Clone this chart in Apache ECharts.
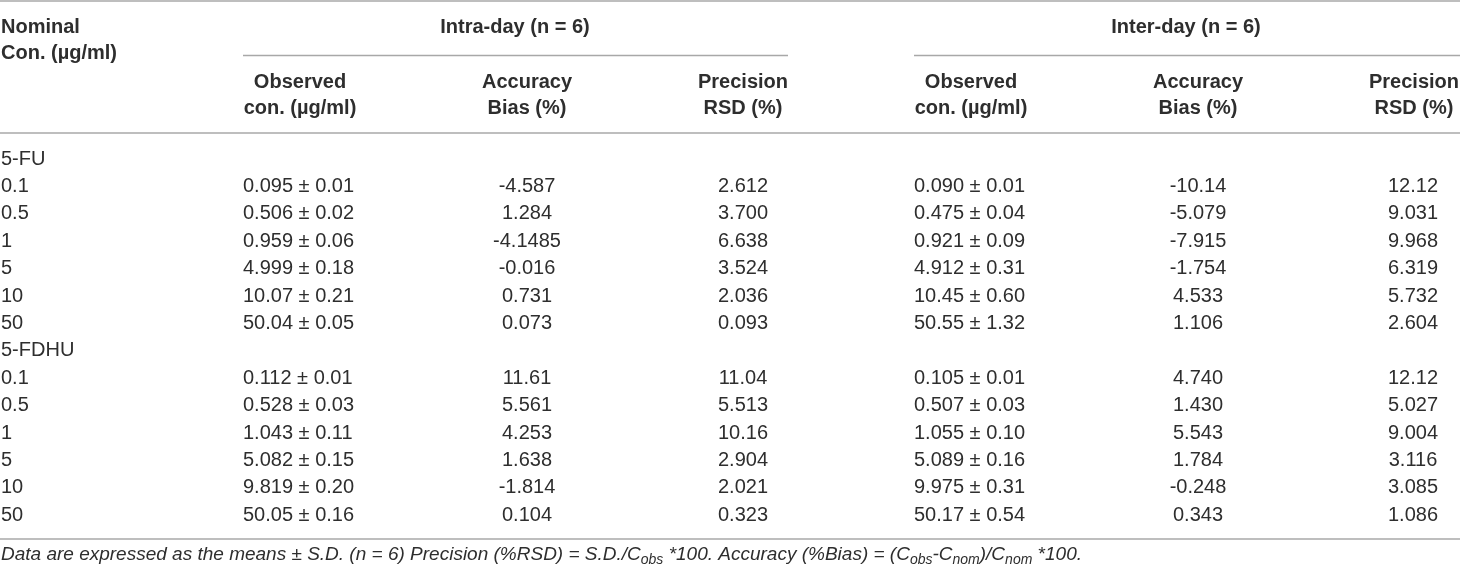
<!DOCTYPE html>
<html lang="en">
<head>
    <meta charset="utf-8"/>
    <title>Intra-day and inter-day precision</title>
    <script src="https://cdn.jsdelivr.net/npm/echarts@6/dist/echarts.min.js"></script>
</head>
<style>
    html, body { margin: 0; padding: 0; background: #fff; }
    #table { width: 1460px; height: 570px; }
</style>
<body>
<div id="table"></div>
<script type="text/javascript">
    // table values, kept as text so trailing zeros stay as printed
    var compounds = ['5-FU', '5-FDHU'];
    var nominalCon = ['0.1', '0.5', '1', '5', '10', '50'];

    var fuIntraObserved = ['0.095 ± 0.01', '0.506 ± 0.02', '0.959 ± 0.06', '4.999 ± 0.18', '10.07 ± 0.21', '50.04 ± 0.05'];
    var fuIntraBias = ['-4.587', '1.284', '-4.1485', '-0.016', '0.731', '0.073'];
    var fuIntraRSD = ['2.612', '3.700', '6.638', '3.524', '2.036', '0.093'];
    var fuInterObserved = ['0.090 ± 0.01', '0.475 ± 0.04', '0.921 ± 0.09', '4.912 ± 0.31', '10.45 ± 0.60', '50.55 ± 1.32'];
    var fuInterBias = ['-10.14', '-5.079', '-7.915', '-1.754', '4.533', '1.106'];
    var fuInterRSD = ['12.12', '9.031', '9.968', '6.319', '5.732', '2.604'];

    var fdhuIntraObserved = ['0.112 ± 0.01', '0.528 ± 0.03', '1.043 ± 0.11', '5.082 ± 0.15', '9.819 ± 0.20', '50.05 ± 0.16'];
    var fdhuIntraBias = ['11.61', '5.561', '4.253', '1.638', '-1.814', '0.104'];
    var fdhuIntraRSD = ['11.04', '5.513', '10.16', '2.904', '2.021', '0.323'];
    var fdhuInterObserved = ['0.105 ± 0.01', '0.507 ± 0.03', '1.055 ± 0.10', '5.089 ± 0.16', '9.975 ± 0.31', '50.17 ± 0.54'];
    var fdhuInterBias = ['4.740', '1.430', '5.543', '1.784', '-0.248', '0.343'];
    var fdhuInterRSD = ['12.12', '5.027', '9.004', '3.116', '3.085', '1.086'];

    var groupHeaders = ['Intra-day (n = 6)', 'Inter-day (n = 6)'];
    var colHeaders = [
        ['Nominal', 'Con. (µg/ml)'],
        ['Observed', 'con. (µg/ml)'],
        ['Accuracy', 'Bias (%)'],
        ['Precision', 'RSD (%)'],
        ['Observed', 'con. (µg/ml)'],
        ['Accuracy', 'Bias (%)'],
        ['Precision', 'RSD (%)']
    ];

    // layout (pixels on the hidden axes)
    var colX = [1, 243, 527, 743, 914, 1198, 1413];
    var colAlign = ['left', 'left', 'center', 'center', 'left', 'center', 'center'];
    var headCenterX = [1, 300, 527, 743, 971, 1198, 1414];
    var headAlign = ['left', 'center', 'center', 'center', 'center', 'center', 'center'];
    var groupX = [515, 1186];
    var bodyTop = 159, rowStep = 27.4;

    var FONT = '"Liberation Sans", Arial, Helvetica, sans-serif';
    var TEXT = '#2e2e2e';
    var RULE = '#a8a8a8';

    var cells = [];
    // header texts
    cells.push({ x: colX[0], y: 27, text: colHeaders[0][0], align: 'left', bold: true });
    cells.push({ x: colX[0], y: 53, text: colHeaders[0][1], align: 'left', bold: true });
    groupHeaders.forEach(function (g, i) {
        cells.push({ x: groupX[i], y: 27, text: g, align: 'center', bold: true });
    });
    for (var c = 1; c < colHeaders.length; c++) {
        cells.push({ x: headCenterX[c], y: 82, text: colHeaders[c][0], align: headAlign[c], bold: true });
        cells.push({ x: headCenterX[c], y: 108, text: colHeaders[c][1], align: headAlign[c], bold: true });
    }
    // body
    var blocks = [
        [fuIntraObserved, fuIntraBias, fuIntraRSD, fuInterObserved, fuInterBias, fuInterRSD],
        [fdhuIntraObserved, fdhuIntraBias, fdhuIntraRSD, fdhuInterObserved, fdhuInterBias, fdhuInterRSD]
    ];
    var row = 0;
    compounds.forEach(function (name, b) {
        cells.push({ x: colX[0], y: bodyTop + row * rowStep, text: name, align: 'left' });
        row++;
        nominalCon.forEach(function (nom, r) {
            var y = bodyTop + row * rowStep;
            cells.push({ x: colX[0], y: y, text: nom, align: 'left' });
            blocks[b].forEach(function (col, k) {
                cells.push({ x: colX[k + 1], y: y, text: col[r], align: colAlign[k + 1] });
            });
            row++;
        });
    });
    // footnote
    cells.push({
        x: 1, y: 555, align: 'left', foot: true,
        text: '{i|Data are expressed as the means ± S.D. (n = 6) Precision (%RSD) = S.D./C}{s|obs}{i| *100. Accuracy (%Bias) = (C}{s|obs}{i|-C}{s|nom}{i|)/C}{s|nom}{i| *100.}'
    });

    var rules = [
        [0, 1, 1460, 1],
        [243, 55.5, 788, 55.5],
        [914, 55.5, 1460, 55.5],
        [0, 133, 1460, 133],
        [0, 539, 1460, 539]
    ];

    var myChart = echarts.init(document.getElementById('table'));
    var option = {
        animation: false,
        grid: { left: 0, right: 0, top: 0, bottom: 0 },
        xAxis: { type: 'value', min: 0, max: 1460, show: false },
        yAxis: { type: 'value', min: 0, max: 570, inverse: true, show: false },
        series: [{
            type: 'custom',
            silent: true,
            data: rules,
            renderItem: function (params, api) {
                var p1 = api.coord([api.value(0), api.value(1)]);
                var p2 = api.coord([api.value(2), api.value(3)]);
                return {
                    type: 'line',
                    shape: { x1: p1[0], y1: p1[1], x2: p2[0], y2: p2[1] },
                    style: { stroke: RULE, lineWidth: 1.6 }
                };
            }
        }, {
            type: 'custom',
            silent: true,
            data: cells.map(function (d) { return [d.x, d.y]; }),
            renderItem: function (params, api) {
                var d = cells[params.dataIndex];
                var p = api.coord([api.value(0), api.value(1)]);
                var style = {
                    text: d.text,
                    x: p[0],
                    y: p[1],
                    align: d.align,
                    verticalAlign: 'middle',
                    fill: TEXT,
                    fontFamily: FONT,
                    fontSize: 20,
                    fontWeight: d.bold ? 'bold' : 'normal'
                };
                if (d.foot) {
                    style.rich = {
                        i: { fontFamily: FONT, fontSize: 19, fontStyle: 'italic', lineHeight: 24, fill: TEXT, verticalAlign: 'middle' },
                        s: { fontFamily: FONT, fontSize: 14, fontStyle: 'italic', lineHeight: 14, fill: TEXT, verticalAlign: 'bottom' }
                    };
                }
                return { type: 'text', style: style };
            }
        }]
    };
    myChart.setOption(option);
</script>
</body>
</html>
